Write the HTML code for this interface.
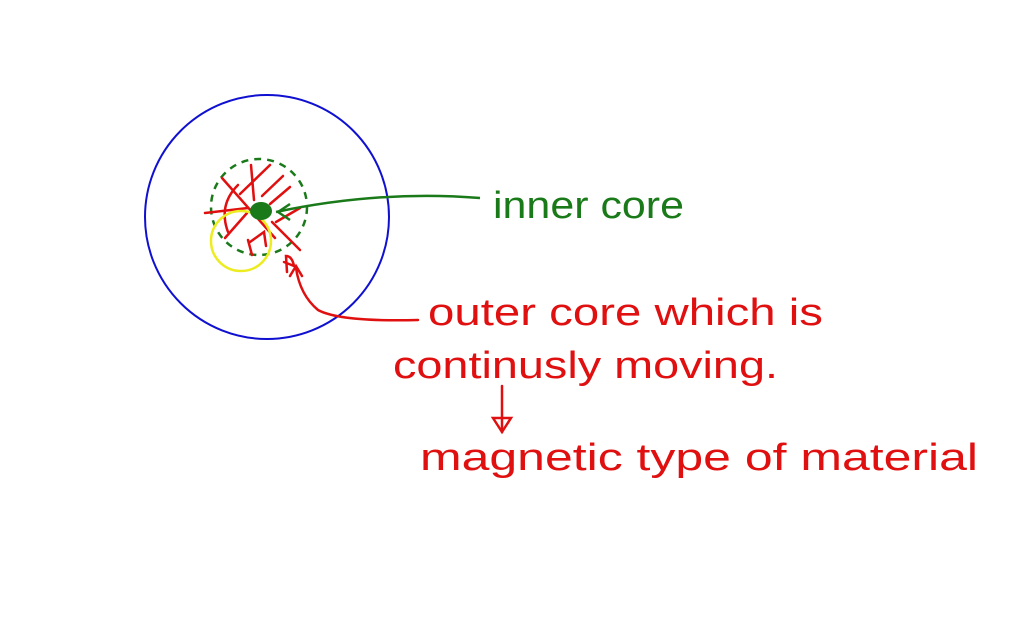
<!DOCTYPE html>
<html><head><meta charset="utf-8"><style>
html,body{margin:0;padding:0;background:#fff;width:1024px;height:622px;overflow:hidden}
text{font-family:"Liberation Sans",sans-serif;font-size:38px}
</style></head><body>
<svg width="1024" height="622" viewBox="0 0 1024 622" xmlns="http://www.w3.org/2000/svg">
<rect width="1024" height="622" fill="#fff"/>
<circle cx="267" cy="217" r="122" fill="none" stroke="#1010d0" stroke-width="2"/>
<circle cx="259" cy="207" r="48" fill="none" stroke="#1a7a1a" stroke-width="2.5" stroke-dasharray="7,6"/>
<g stroke="#e01010" stroke-width="2.5" fill="none" stroke-linecap="round">
<line x1="222" y1="178" x2="275" y2="238"/>
<line x1="205" y1="213" x2="248" y2="208"/>
<line x1="225" y1="238" x2="247" y2="213"/>
<line x1="251" y1="165" x2="254" y2="200"/>
<line x1="270" y1="165" x2="240" y2="194"/>
<line x1="283" y1="176" x2="262" y2="196"/>
<line x1="290" y1="187" x2="270" y2="204"/>
<line x1="300" y1="208" x2="276" y2="222"/>
<line x1="272" y1="222" x2="300" y2="250"/>
<path d="M238 185 Q218 205 228 232"/>
<path d="M250 242 L264 232 L266 246"/>
<line x1="248" y1="240" x2="252" y2="255"/>
<path d="M287 272 L286 256 Q292 256 294 266 L284 262"/>
<path d="M418 320 Q340 322 318 310 Q300 295 296 268"/>
<path d="M290 276 L296 266 L302 276"/>
<line x1="502" y1="386" x2="502" y2="432"/>
<path d="M493 418 L502 432 L511 418 Z"/>
</g>
<circle cx="241" cy="241" r="30" fill="none" stroke="#ecec20" stroke-width="2.5"/>
<ellipse cx="261" cy="211" rx="11" ry="9" fill="#1a7a1a"/>
<path d="M480 198 Q380 190 276 212" fill="none" stroke="#1a7a1a" stroke-width="2.5"/>
<path d="M278 212 L290 204 M278 212 L290 220" stroke="#1a7a1a" stroke-width="2.5"/>
<text x="493" y="218" fill="#1a7a1a" textLength="191" lengthAdjust="spacingAndGlyphs">inner core</text>
<text x="428" y="325" fill="#e01010" textLength="395" lengthAdjust="spacingAndGlyphs">outer core  which is</text>
<text x="393" y="378" fill="#e01010" textLength="385" lengthAdjust="spacingAndGlyphs">continusly  moving.</text>
<text x="420" y="470" fill="#e01010" textLength="558" lengthAdjust="spacingAndGlyphs">magnetic type of material</text>
</svg>
</body></html>
